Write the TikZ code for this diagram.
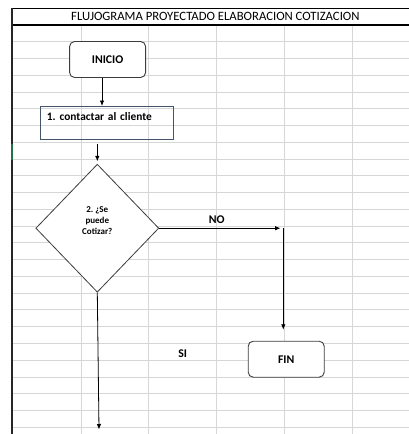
\documentclass[tikz,border=0pt]{standalone}
\usepackage{fontspec}
\setmainfont{Carlito}
\frenchspacing
\usetikzlibrary{shapes.geometric,arrows.meta}
\definecolor{gridgray}{RGB}{214,214,214}
\definecolor{boxblue}{RGB}{68,84,106}
\definecolor{edgegray}{RGB}{60,60,60}
\definecolor{selgreen}{RGB}{33,115,70}
\begin{document}
\begin{tikzpicture}[x=1pt,y=-1pt,
  gridline/.style={gridgray,line width=0.9pt},
  terminal/.style={draw=edgegray,fill=white,line width=0.9pt,rounded corners=5pt,
    minimum width=76pt,minimum height=36pt,inner sep=0pt,
    font=\bfseries\fontsize{11.8}{13}\selectfont},
  process/.style={draw=boxblue,line width=0.9pt,text width=119pt,align=left,
    inner xsep=7pt,inner ysep=4.5pt,text height=10pt,text depth=14pt,
    font=\bfseries\fontsize{11.4}{13}\selectfont},
  decision/.style={diamond,draw=edgegray,fill=white,line width=0.8pt,
    minimum width=123pt,minimum height=128pt,inner sep=0pt},
  flow/.style={draw=black,line width=0.8pt,-{Latex[length=5.5pt,width=4.5pt]}},
  tag/.style={font=\bfseries\fontsize{11.8}{13}\selectfont}
]
\useasboundingbox (0,0) rectangle (409,434);

% spreadsheet grid
\foreach \k in {1,...,24}
  \draw[gridline] (11,{25+\k*16.76}) -- (409,{25+\k*16.76});
\foreach \x in {81,148.8,216.6,284.4,352.2}
  \draw[gridline] (\x,25) -- (\x,434);

% sheet frame and header row
\draw[black,line width=0.8pt] (11,8) -- (409,8);
\draw[black,line width=1.8pt] (11,25) -- (409,25);
\draw[black!85,line width=2pt] (11.5,8) -- (11.5,434);
\draw[selgreen,line width=2pt] (11.5,143.5) -- (11.5,160);

\node[font=\fontsize{12.7}{14}\selectfont,anchor=base,inner sep=0pt] (title) at (215.4,20.9)
  {FLUJOGRAMA PROYECTADO ELABORACION COTIZACION};

% flowchart
\node[terminal] (inicio) at (107.6,59.5) {INICIO};
\node[process,anchor=north west] (paso1) at (39.5,106) {1. contactar al cliente};
\node[decision] (dec) at (97.3,228.2) {};
\node[font=\bfseries\fontsize{9}{11}\selectfont,align=center,inner sep=0pt] (dectxt)
  at (97.3,221) {2. ¿Se\\puede\\Cotizar?};
\node[terminal] (fin) at (286.2,359.2) {FIN};

\coordinate (k1) at (102,0);
\coordinate (k2) at (97.3,0);
\coordinate (noturn) at (283.3,228.2);
\coordinate (siend) at (99,429.5);

\draw[flow] (inicio.south -| k1) -- (paso1.north -| k1);
\draw[flow,shorten <=4pt,shorten >=2.5pt] (paso1.south -| k2) -- (dec.north);
\draw[flow,shorten >=2.8pt] (dec.east) -- (noturn);
\draw[flow,shorten >=11pt] (noturn) -- (fin.north -| noturn);
\draw[flow] (dec.south) -- (siend);

\node[tag] (no) at (216.7,219.5) {NO};
\node[tag] (si) at (182.7,353.3) {SI};
\end{tikzpicture}
\end{document}
